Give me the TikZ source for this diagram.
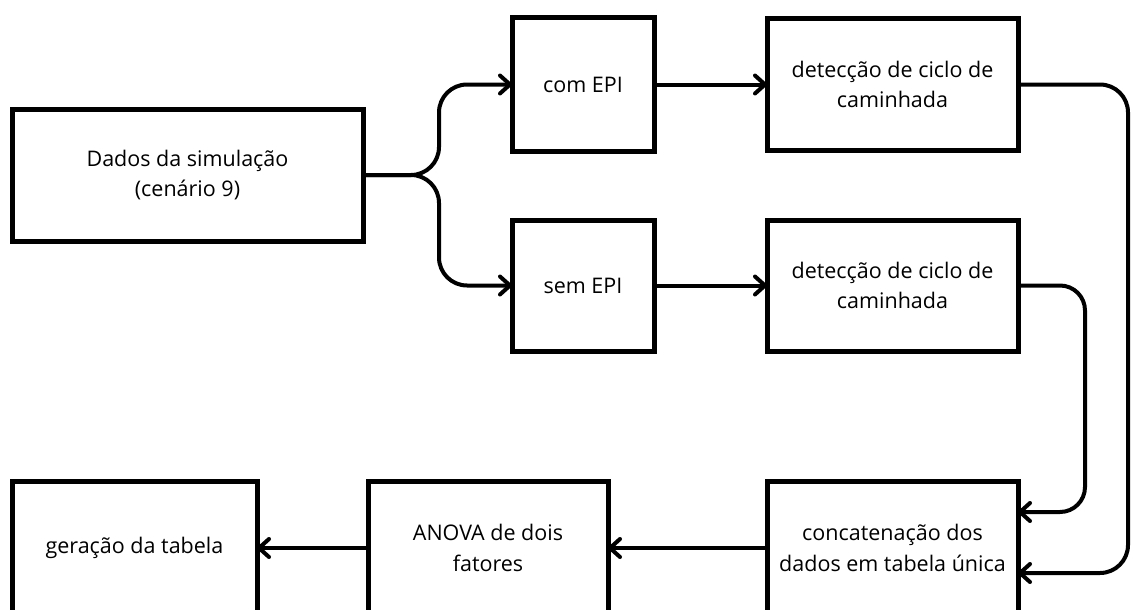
\documentclass[tikz,border=0pt]{standalone}
\usepackage{fontspec}
\setmainfont{Open Sans}
\usetikzlibrary{arrows.meta,calc}
\begin{document}
\begin{tikzpicture}[x=1pt,y=-1pt,
  box/.style={draw, line width=5pt, align=center, outer sep=0pt, inner sep=0pt,
    font=\fontsize{21.5}{30.5}\selectfont},
  conn/.style={line width=4pt, rounded corners=28pt,
    -{Straight Barb[length=10pt,width=18pt,line cap=round,line join=round]}}]
\useasboundingbox (0,0) rectangle (1132,610);
\clip (0,0) rectangle (1132,610);
\fill[white] (0,0) rectangle (1132,610);
\node[box, minimum width=351pt, minimum height=132pt] (dados) at (187.5,175) {Dados da simulação\\(cenário 9)};
\node[box, minimum width=142pt, minimum height=133pt] (com) at (583,84.5) {com EPI};
\node[box, minimum width=251pt, minimum height=132pt] (det1) at (892.5,84.5) {detecção de ciclo de\\caminhada};
\node[box, minimum width=142pt, minimum height=131pt] (sem) at (583,285.5) {sem EPI};
\node[box, minimum width=251pt, minimum height=131pt] (det2) at (892.5,285.5) {detecção de ciclo de\\caminhada};
\node[box, minimum width=251pt, minimum height=134pt] (concat) at (892.5,548) {concatenação dos\\dados em tabela única};
\node[box, minimum width=240pt, minimum height=134pt] (anova) at (488,548) {ANOVA de dois\\fatores};
\node[box, minimum width=245pt, minimum height=134pt] (ger) at (134.5,548) {geração da tabela};
\draw[conn] (dados.east) -- ++(76,0) |- (com.west);
\draw[conn] (dados.east) -- ++(76,0) |- (sem.west);
\draw[conn] (com.east) -- (det1.west);
\draw[conn] (sem.east) -- (det2.west);
\draw[conn] (det1.east) -- ++(110,0) |- ($(concat.east)+(0,25)$);
\draw[conn, rounded corners=25pt] (det2.east) -- ++(67,0) |- ($(concat.east)+(0,-36)$);
\draw[conn] (concat.west) -- (anova.east);
\draw[conn] (anova.west) -- (ger.east);
\end{tikzpicture}
\end{document}
